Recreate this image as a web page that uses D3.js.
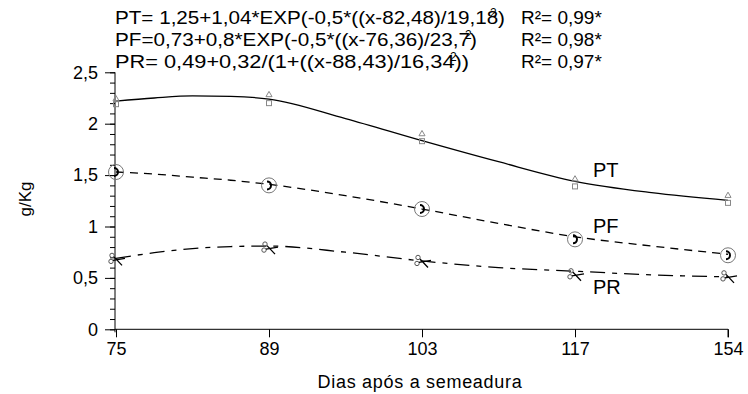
<!DOCTYPE html>
<html><head><meta charset="utf-8">
<script src="https://cdn.jsdelivr.net/npm/d3@7"></script>
<style>
body{margin:0;background:#fff;}
text{font-family:"Liberation Sans",Arial,sans-serif;fill:#000;}
</style></head>
<body><svg id="c" width="748" height="394"></svg>
<script>
// ---- data ----
const xLabels = ["75", "89", "103", "117", "154"];
const yTicks = [0, 0.5, 1, 1.5, 2, 2.5];
const curvePos = [0, 0.25, 0.5, 0.75, 1, 1.5, 2, 2.5, 3, 3.5, 4];
const ptCurve = [2.22, 2.25, 2.27, 2.265, 2.24, 2.05, 1.835, 1.63, 1.44, 1.33, 1.255];
const pfCurve = [1.53, 1.51, 1.48, 1.45, 1.41, 1.30, 1.17, 1.03, 0.90, 0.81, 0.73];
const prCurve = [0.69, 0.745, 0.785, 0.805, 0.81, 0.75, 0.665, 0.60, 0.565, 0.53, 0.51];
const ptObsA = [2.24, 2.28, 1.90, 1.46, 1.30];
const ptObsB = [2.19, 2.20, 1.83, 1.39, 1.23];
const pfObs = [1.53, 1.40, 1.17, 0.875, 0.72];
const prObs = [0.68, 0.79, 0.66, 0.53, 0.51];
const eqMain = ["PT= 1,25+1,04*EXP(-0,5*((x-82,48)/19,18)", "PF=0,73+0,8*EXP(-0,5*((x-76,36)/23,7)", "PR= 0,49+0,32/(1+((x-88,43)/16,34))"];
const eqWidths = [390, 362, 354];
const eqSupBack = [15, 12, 19];
const eqR2 = ["R²= 0,99*", "R²= 0,98*", "R²= 0,97*"];
const seriesLabels = ["PT", "PF", "PR"];
const seriesLabelVals = [1.55, 1.008, 0.41];

// ---- chart ----
const svg = d3.select("#c");
const x = d3.scaleLinear().domain([0, 4]).range([116, 728]);
const y = d3.scaleLinear().domain([0, 2.5]).range([329.3, 72.3]);

// axes
const yAxisMinor = d3.axisLeft(y).tickValues(d3.range(0, 2.51, 0.1)).tickSize(5).tickFormat("");
svg.append("g").attr("transform", "translate(115,0)").call(yAxisMinor)
  .call(g => g.select(".domain").remove())
  .selectAll("line").attr("stroke", "#000");
const yAxis = d3.axisLeft(y).tickValues(yTicks).tickSize(10).tickPadding(7)
  .tickFormat(d => d3.format(".1~f")(d).replace(".", ","));
svg.append("g").attr("transform", "translate(115,0)").call(yAxis)
  .call(g => g.select(".domain").attr("d", `M0,${y(0) + 3}V${y(2.5)}`))
  .call(g => g.selectAll("text").style("font-size", "18px").attr("font-family", null))
  .selectAll("line,path").attr("stroke", "#000");

const xAxis = d3.axisBottom(x).tickValues([0, 1, 2, 3, 4]).tickSize(8).tickPadding(5)
  .tickFormat(i => xLabels[i]);
svg.append("g").attr("transform", `translate(0,${y(0)})`).call(xAxis)
  .call(g => g.select(".domain").attr("d", `M${x(0) - 1},0H${x(4)}V8`))
  .call(g => g.selectAll("text").style("font-size", "18px").attr("font-family", null))
  .selectAll("line,path").attr("stroke", "#000");

svg.append("text").attr("x", 420).attr("y", 388).attr("text-anchor", "middle")
  .style("font-size", "18px").style("letter-spacing", "0.7px").text("Dias após a semeadura");
svg.append("text").attr("transform", "translate(31,199) rotate(-90)").attr("text-anchor", "middle")
  .style("font-size", "17px").text("g/Kg");

// curves
const line = d3.line().x((d, i) => x(curvePos[i])).y(d => y(d)).curve(d3.curveMonotoneX);
svg.append("path").attr("d", line(ptCurve)).attr("fill", "none").attr("stroke", "#000").attr("stroke-width", 1.3);
svg.append("path").attr("d", line(pfCurve)).attr("fill", "none").attr("stroke", "#000").attr("stroke-width", 1.3).attr("stroke-dasharray", "8,6");
svg.append("path").attr("d", line(prCurve)).attr("fill", "none").attr("stroke", "#000").attr("stroke-width", 1.3).attr("stroke-dasharray", "15,7,5,7");

// markers PT
const tri = d3.symbol().type(d3.symbolTriangle).size(16);
svg.append("g").selectAll("path").data(ptObsA).join("path")
  .attr("d", tri).attr("transform", (d, i) => `translate(${x(i)},${y(d)})`)
  .attr("fill", "none").attr("stroke", "#888").attr("stroke-width", 1);
svg.append("g").selectAll("rect").data(ptObsB).join("rect")
  .attr("x", (d, i) => x(i) - 2.5).attr("y", d => y(d) - 2.5).attr("width", 5).attr("height", 5)
  .attr("fill", "none").attr("stroke", "#888").attr("stroke-width", 1);

// markers PF
const pfg = svg.append("g").selectAll("g").data(pfObs).join("g")
  .attr("transform", (d, i) => `translate(${x(i)},${y(d)})`);
pfg.append("circle").attr("r", 7.5).attr("fill", "none").attr("stroke", "#777").attr("stroke-width", 1);
pfg.append("path").attr("d", "M-2,-4 A4,4 0 1,1 -2,4").attr("fill", "none").attr("stroke", "#000").attr("stroke-width", 2);

// markers PR (scissors)
const prg = svg.append("g").selectAll("g").data(prObs).join("g")
  .attr("transform", (d, i) => `translate(${x(i)},${y(d)})`);
prg.append("circle").attr("cx", -4).attr("cy", -4).attr("r", 2.2).attr("fill", "none").attr("stroke", "#555").attr("stroke-width", 1);
prg.append("circle").attr("cx", -5).attr("cy", 2).attr("r", 2.2).attr("fill", "none").attr("stroke", "#555").attr("stroke-width", 1);
prg.append("path").attr("d", "M-2,-2.5L6,6M-3,1L9,-1").attr("fill", "none").attr("stroke", "#000").attr("stroke-width", 1.3);

// series labels
svg.append("g").selectAll("text").data(seriesLabels).join("text")
  .attr("x", 593).attr("y", (d, i) => y(seriesLabelVals[i]) + 7)
  .style("font-size", "20px").text(d => d);

// equations
const eq = svg.append("g");
eqMain.forEach((t, i) => {
  const by = 23.5 + i * 22;
  eq.append("text").attr("x", 115).attr("y", by).attr("textLength", eqWidths[i])
    .attr("lengthAdjust", "spacingAndGlyphs").style("font-size", "19px").text(t);
  eq.append("text").attr("x", 115 + eqWidths[i] - eqSupBack[i]).attr("y", by - 7)
    .style("font-size", "12px").text("2");
  eq.append("text").attr("x", 521).attr("y", by).style("font-size", "19px").text(eqR2[i]);
});
</script></body></html>
